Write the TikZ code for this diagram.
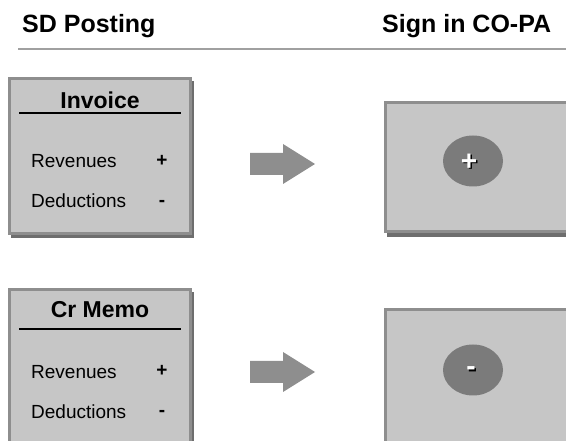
\documentclass[tikz,border=0pt]{standalone}
\usepackage{fontspec}
\setmainfont{Liberation Sans}
\usetikzlibrary{shapes.geometric}
\begin{document}
\begin{tikzpicture}[x=1pt,y=-1pt,
  panel/.style={fill=panelfill,draw=paneledge,line width=3pt},
  shade/.style={fill=panelshadow},
  heading/.style={anchor=base west,inner sep=0pt,font=\fontsize{25}{30}\selectfont\bfseries},
  title/.style={anchor=base,inner sep=0pt,font=\fontsize{23}{26}\selectfont\bfseries},
  item/.style={anchor=base west,inner sep=0pt,font=\fontsize{19}{22}\selectfont},
  sign/.style={anchor=base,inner sep=0pt,font=\fontsize{19}{22}\selectfont\bfseries},
  blob/.style={ellipse,fill=blobfill,minimum width=60pt,minimum height=51pt,inner sep=0pt},
  glyph/.style={inner sep=0pt,font=\fontsize{28}{28}\selectfont\bfseries},
  bigarrow/.style={fill=arrowfill}]
\definecolor{panelfill}{HTML}{C6C6C6}
\definecolor{paneledge}{HTML}{8E8E8E}
\definecolor{panelshadow}{HTML}{6E6E6E}
\definecolor{blobfill}{HTML}{7B7B7B}
\definecolor{arrowfill}{HTML}{8E8E8E}
\definecolor{rulegray}{HTML}{A0A0A0}
\useasboundingbox (0,0) rectangle (566,441);

% column headings and rule
\node[heading] (hl) at (22,33) {SD Posting};
\node[heading] (hr) at (382,33) {Sign in CO-PA};
\coordinate (r1) at (18,49);
\coordinate (r2) at (566,49);
\draw[rulegray,line width=2pt] (r1) -- (r2);

% ---- invoice row ----
\fill[shade] (11,81) rectangle (194,238);
\draw[panel] (9,79) rectangle (190,234);
\node[title] (inv) at (100,109) {Invoice};
\coordinate (u1a) at (19,113);
\coordinate (u1b) at (181,113);
\draw[line width=1.5pt] (u1a) -- (u1b);
\node[item] (rev1) at (31,168) {Revenues};
\node[item] (ded1) at (31,208) {Deductions};
\node[sign] (p1) at (162,167) {+};
\node[sign] (m1) at (162,207) {-};

\fill[bigarrow] (250,153) -- (283,153) -- (283,144) -- (315,164) -- (283,184) -- (283,175) -- (250,175) -- cycle;

\fill[shade] (387,105) rectangle (580,237);
\draw[panel] (385,103) rectangle (580,232);
\node[blob] (c1) at (473,161) {};
\node[glyph,text=black] (k1) at (470.5,163.5) {+};
\node[glyph,text=white] (s1) at (469,162) {+};

% ---- credit memo row ----
\fill[shade] (11,292) rectangle (194,460);
\draw[panel] (9,290) rectangle (190,460);
\node[title] (cr) at (100,318) {Cr Memo};
\coordinate (u2a) at (19,329);
\coordinate (u2b) at (181,329);
\draw[line width=1.5pt] (u2a) -- (u2b);
\node[item] (rev2) at (31,378) {Revenues};
\node[item] (ded2) at (31,418) {Deductions};
\node[sign] (p2) at (162,377) {+};
\node[sign] (m2) at (162,417) {-};

\fill[bigarrow] (250,361) -- (283,361) -- (283,352) -- (315,372) -- (283,392) -- (283,383) -- (250,383) -- cycle;

\fill[shade] (387,312) rectangle (580,460);
\draw[panel] (385,310) rectangle (580,460);
\node[blob] (c2) at (473,370) {};
\node[glyph,text=black] (k2) at (472.5,373) {-};
\node[glyph,text=white] (s2) at (471,371.5) {-};
\end{tikzpicture}
\end{document}
